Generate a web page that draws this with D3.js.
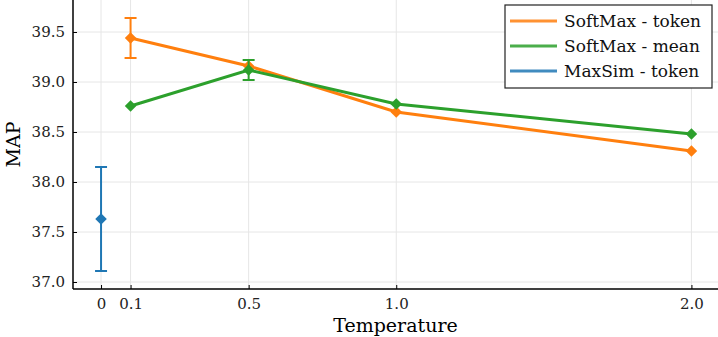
<!DOCTYPE html>
<html>
<head>
<meta charset="utf-8">
<script src="https://cdn.jsdelivr.net/npm/d3@7"></script>
<style>
body { margin: 0; background: #fff; }
svg { display: block; font-family: "DejaVu Serif", serif; }
.grid line { stroke: #e6e6e6; stroke-width: 1; }
</style>
</head>
<body>
<svg id="chart" width="718" height="337"></svg>
<script>
// data
var temps = [0.1, 0.5, 1.0, 2.0];
var softTokenVals = [39.44, 39.16, 38.70, 38.31];
var softTokenErr = [0.20, 0, 0, 0];
var softMeanVals = [38.76, 39.12, 38.78, 38.48];
var softMeanErr = [0, 0.10, 0, 0];
var maxSimTemps = [0];
var maxSimVals = [37.63];
var maxSimErr = [0.52];
var xTicks = [0, 0.1, 0.5, 1.0, 2.0];
var xTickLabels = ["0", "0.1", "0.5", "1.0", "2.0"];
var yTicks = [37.0, 37.5, 38.0, 38.5, 39.0, 39.5];
var seriesNames = ["SoftMax - token", "SoftMax - mean", "MaxSim - token"];
var colors = ["#ff7f0e", "#2ca02c", "#1f77b4"];

var svg = d3.select("#chart"),
    margin = {top: 0, right: 0, bottom: 48, left: 73},
    width = +svg.attr("width") - margin.left - margin.right,
    height = +svg.attr("height") - margin.top - margin.bottom;

var x = d3.scaleLinear().domain([-0.095, 2.09]).range([0, width]);
var y = d3.scaleLinear().domain([36.93, 39.82]).range([height, 0]);

var g = svg.append("g")
    .attr("transform", "translate(" + margin.left + "," + margin.top + ")");

// grid
g.append("g").attr("class", "grid")
  .selectAll("line.v").data(xTicks).enter().append("line")
    .attr("x1", function(d) { return x(d); }).attr("x2", function(d) { return x(d); })
    .attr("y1", 0).attr("y2", height);
g.append("g").attr("class", "grid")
  .selectAll("line.h").data(yTicks).enter().append("line")
    .attr("y1", function(d) { return y(d); }).attr("y2", function(d) { return y(d); })
    .attr("x1", 0).attr("x2", width);

// axes
var xAxis = g.append("g")
    .attr("transform", "translate(0," + height + ")")
    .call(d3.axisBottom(x).tickValues(xTicks)
            .tickFormat(function(d, i) { return xTickLabels[i]; })
            .tickSizeInner(-4).tickSizeOuter(0).tickPadding(9));
var yAxis = g.append("g")
    .call(d3.axisLeft(y).tickValues(yTicks)
            .tickFormat(d3.format(".1f"))
            .tickSizeInner(-4).tickSizeOuter(0).tickPadding(8));
[xAxis, yAxis].forEach(function(a) {
    a.select(".domain").attr("stroke", "#000").attr("stroke-width", 1.5);
    a.selectAll(".tick line").attr("stroke", "#000").attr("stroke-width", 1);
    a.selectAll(".tick text").attr("font-size", 15).attr("font-family", "DejaVu Serif").attr("fill", "#222");
});
yAxis.select(".domain").attr("d", "M0," + height + "V0");
xAxis.select(".domain").attr("d", "M0,0H" + width);

// axis labels
svg.append("text")
    .attr("x", margin.left + width / 2)
    .attr("y", 332)
    .attr("text-anchor", "middle")
    .attr("font-size", 19)
    .text("Temperature");
svg.append("text")
    .attr("transform", "translate(20," + (height / 2) + ") rotate(-90)")
    .attr("text-anchor", "middle")
    .attr("font-size", 19)
    .text("MAP");

var line = d3.line()
    .x(function(d) { return x(d.t); })
    .y(function(d) { return y(d.v); });

function drawSeries(ts, vals, errs, color) {
    var data = ts.map(function(t, i) { return {t: t, v: vals[i], e: errs[i]}; });
    var s = g.append("g");
    if (data.length > 1) {
        s.append("path").datum(data)
            .attr("d", line)
            .attr("fill", "none")
            .attr("stroke", color)
            .attr("stroke-width", 3);
    }
    var eb = s.selectAll(".err").data(data.filter(function(d) { return d.e > 0; }))
        .enter().append("g").attr("stroke", color).attr("stroke-width", 2);
    eb.append("line")
        .attr("x1", function(d) { return x(d.t); }).attr("x2", function(d) { return x(d.t); })
        .attr("y1", function(d) { return y(d.v - d.e); }).attr("y2", function(d) { return y(d.v + d.e); });
    [-1, 1].forEach(function(sgn) {
        eb.append("line")
            .attr("x1", function(d) { return x(d.t) - 6; }).attr("x2", function(d) { return x(d.t) + 6; })
            .attr("y1", function(d) { return y(d.v + sgn * d.e); }).attr("y2", function(d) { return y(d.v + sgn * d.e); });
    });
    s.selectAll(".mk").data(data).enter().append("path")
        .attr("d", d3.symbol().type(d3.symbolDiamond2).size(85))
        .attr("transform", function(d) { return "translate(" + x(d.t) + "," + y(d.v) + ")"; })
        .attr("fill", color);
}

drawSeries(temps, softTokenVals, softTokenErr, colors[0]);
drawSeries(temps, softMeanVals, softMeanErr, colors[1]);
drawSeries(maxSimTemps, maxSimVals, maxSimErr, colors[2]);

// legend
var lg = svg.append("g").attr("transform", "translate(505,5)");
lg.append("rect").attr("width", 207).attr("height", 83)
    .attr("fill", "#fff").attr("stroke", "#222").attr("stroke-width", 1.2);
seriesNames.forEach(function(name, i) {
    var yy = 16 + i * 25;
    lg.append("line").attr("x1", 5).attr("x2", 52).attr("y1", yy).attr("y2", yy)
        .attr("stroke", colors[i]).attr("stroke-width", 3).attr("stroke-opacity", 0.85);
    lg.append("text").attr("x", 59).attr("y", yy + 6)
        .attr("font-size", 17).attr("fill", "#111").text(name);
});
</script>
</body>
</html>
